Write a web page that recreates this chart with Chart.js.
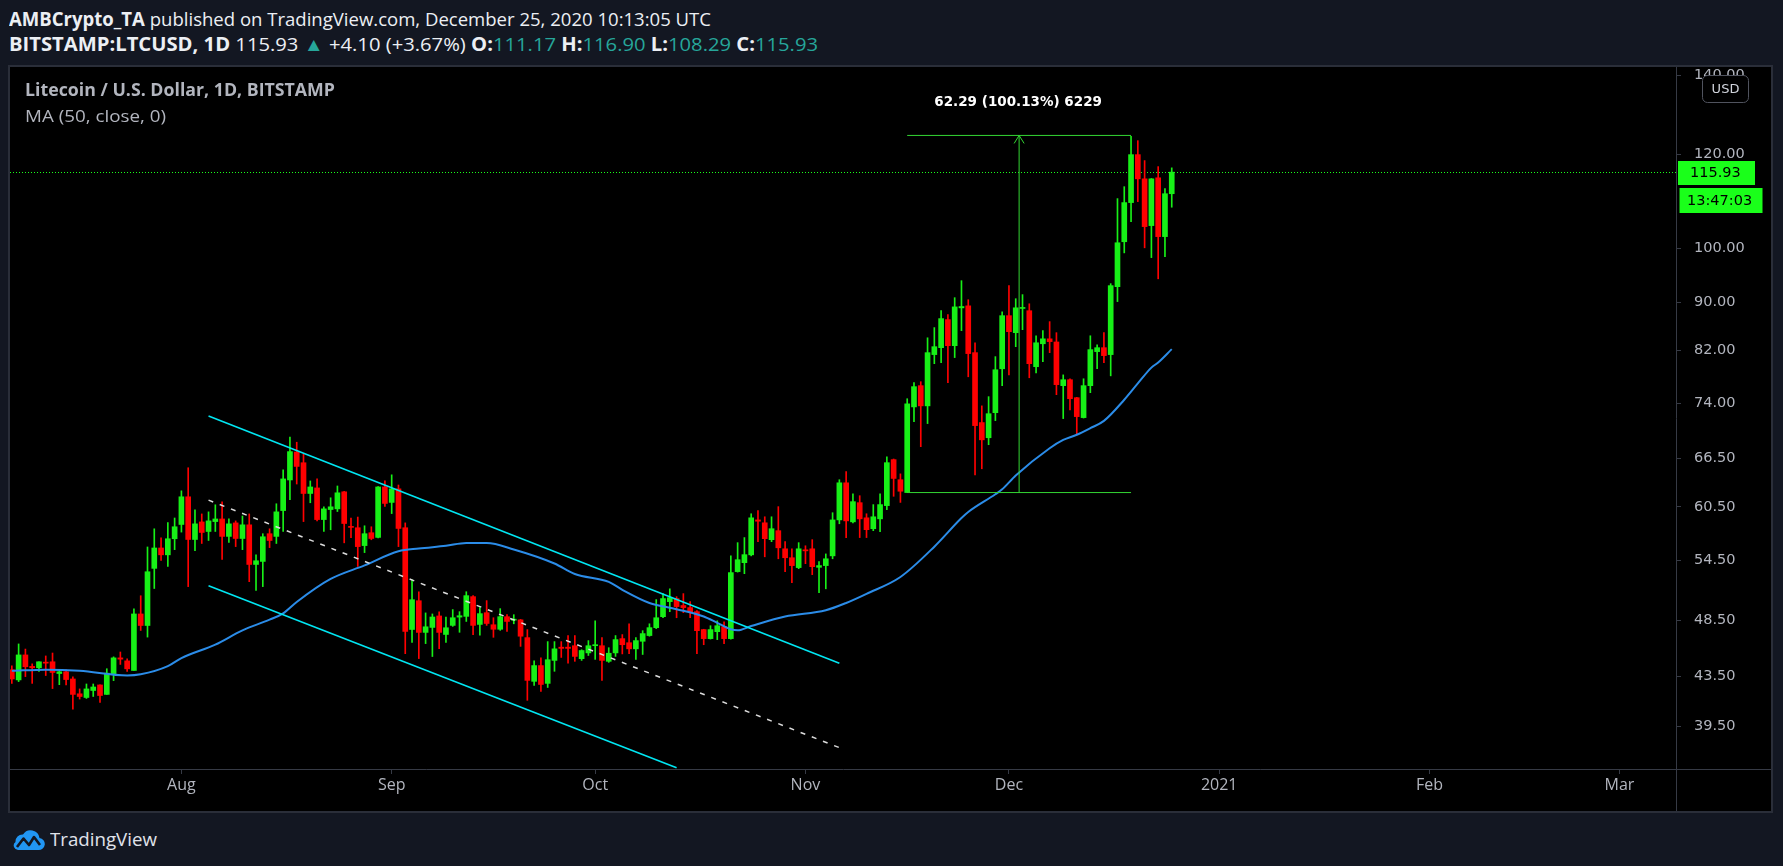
<!DOCTYPE html>
<html><head><meta charset="utf-8">
<script src="https://cdn.jsdelivr.net/npm/chart.js"></script>
<style>
html,body{margin:0;padding:0;background:#131722;width:1783px;height:866px;overflow:hidden;}
.hdr{position:absolute;left:9px;white-space:nowrap;font-family:"Open Sans","Liberation Sans",Arial,sans-serif;color:#eceff4;transform-origin:0 50%;font-size:19px;line-height:22px;}
#h1{top:8px;}
#h2{top:33px;}
.b{font-weight:bold}
.t{color:#26a69a}
#frame{position:absolute;left:8px;top:65px;width:1765px;height:748px;background:#2a2e39;}
#inner{position:absolute;left:10px;top:67px;width:1761px;height:744px;background:#000;}
#c{position:absolute;left:10px;top:67px;}
.leg{position:absolute;left:25px;font-family:"Open Sans","Liberation Sans",Arial,sans-serif;color:#b2b5be;white-space:nowrap;transform-origin:0 50%;font-size:17px;line-height:20px;}
#title{top:80px;font-weight:bold;}
#ma{top:106px;}
#logo{position:absolute;left:11px;top:826px;height:26px;}
#logo svg{position:absolute;left:0;top:1px}
#logotxt{position:absolute;left:39px;top:1px;font-family:"Open Sans","Liberation Sans",Arial,sans-serif;font-size:18px;line-height:24px;color:#e0e3eb;white-space:nowrap;transform-origin:0 50%}
</style></head>
<body>
<div id="h1" class="hdr"><span class="b">AMBCrypto_TA</span> published on TradingView.com, December 25, 2020 10:13:05 UTC</div>
<div id="h2" class="hdr"><span class="b">BITSTAMP:LTCUSD, 1D</span> 115.93 <span class="t">▲</span> +4.10 (+3.67%) <span class="b">O:</span><span class="t">111.17</span> <span class="b">H:</span><span class="t">116.90</span> <span class="b">L:</span><span class="t">108.29</span> <span class="b">C:</span><span class="t">115.93</span></div>
<div id="frame"></div>
<div id="inner"></div>
<canvas id="c" width="1761" height="744"></canvas>
<div id="title" class="leg">Litecoin / U.S. Dollar, 1D, BITSTAMP</div>
<div id="ma" class="leg">MA (50, close, 0)</div>
<div id="logo">
<svg width="34" height="24" viewBox="0 0 34 24"><path d="M8 23 H27 A6 6 0 0 0 28.5 11 A9 9 0 0 0 12 7.5 A7 7 0 0 0 4.5 15 A4.5 4.5 0 0 0 8 23Z" fill="#2196f3"/><path d="M6 20 L12.5 11.5 L18 18 L23 10 L29 18" stroke="#131722" stroke-width="2.6" fill="none" stroke-linejoin="round"/></svg>
<div id="logotxt">TradingView</div>
</div>
<script>
// ---- data ----
const startDate = '2020-07-07'; // first daily candle
const open = [
44.09,43.23,45.38,44.38,44.26,44.75,44.78,43.77,43.92,43.31,42.08,41.78,42.35,42.81,42.03,43.74,45.12,44.86,44.03,49.14,48.05,53.69,55.86,55.12,56.87,
58.47,61.70,56.79,58.76,57.68,58.80,59.10,57.13,58.65,56.90,58.43,54.10,54.42,57.43,57.13,60.07,63.75,67.30,65.92,62.10,62.77,59.03,60.19,60.27,62.30,58.21,58.10,56.12,57.54,57.02,62.89,
61.03,62.66,58.10,47.68,50.42,47.41,47.87,48.95,47.22,48.06,48.84,48.91,50.82,48.15,49.26,48.12,47.70,48.88,48.55,48.58,46.93,43.11,44.45,42.94,44.90,46.07,46.07,46.20,45.05,45.56,
46.20,46.20,44.82,45.56,46.84,46.47,45.92,46.60,47.12,47.85,48.88,50.33,50.63,49.95,49.75,49.36,47.67,46.84,47.48,47.94,46.84,53.35,54.29,55.12,58.99,58.66,56.77,57.77,55.77,54.81,53.77,
55.66,55.77,53.80,53.98,55.01,58.99,63.40,58.77,61.00,59.23,57.99,59.11,60.65,66.32,63.78,62.21,73.47,76.57,73.62,81.33,82.43,87.05,82.75,89.06,89.41,81.64,71.27,69.20,72.65,79.12,
87.72,84.87,88.96,88.57,79.44,83.06,83.86,83.35,76.57,77.46,74.80,71.96,76.57,81.80,82.43,81.33,92.80,101.27,109.27,119.94,114.43,104.49,114.66,102.28,111.17];
const high = [
44.43,46.36,45.90,44.60,44.78,45.29,45.55,44.09,44.09,43.48,42.48,42.89,42.89,42.81,44.18,45.21,45.64,45.04,49.63,50.91,55.97,57.98,56.98,58.69,59.21,
62.42,65.28,60.15,59.68,59.92,60.75,61.11,59.10,58.88,59.44,59.68,55.12,57.43,57.98,60.87,65.03,69.30,68.60,67.06,63.63,63.88,60.51,61.58,63.01,62.35,59.21,59.32,58.32,58.21,62.95,63.63,
64.39,63.13,58.65,52.50,51.30,49.24,49.14,49.34,48.85,49.56,49.36,51.31,50.92,49.75,50.43,48.78,49.65,49.07,49.07,48.62,47.67,44.87,45.13,46.57,46.57,46.57,47.12,47.12,45.84,46.66,
48.49,46.93,46.02,47.12,47.21,48.21,46.93,47.57,48.21,50.53,51.12,51.60,50.82,51.12,50.33,49.46,47.70,48.03,48.49,48.40,55.01,56.44,57.00,59.70,60.06,59.35,59.35,60.53,56.55,55.77,56.44,
56.10,56.77,54.39,55.22,59.82,63.78,64.79,62.07,61.83,59.70,60.77,62.07,66.69,66.40,64.51,74.65,77.01,77.16,84.03,85.71,88.57,87.89,90.84,93.89,90.48,83.22,73.62,74.95,81.01,88.39,
92.99,90.66,91.38,89.77,84.36,85.20,86.71,84.87,78.19,77.60,74.85,77.60,84.36,82.90,84.87,93.35,110.12,112.70,124.30,123.24,118.56,114.50,117.18,112.27,116.90];
const low = [
42.94,43.09,43.51,42.94,43.94,43.60,42.51,42.83,42.81,40.84,41.65,41.70,41.86,41.38,42.03,43.17,44.55,43.94,44.03,47.59,46.98,51.63,54.52,53.89,55.68,
57.61,51.82,55.57,56.35,56.68,57.68,54.63,56.46,56.01,55.68,52.32,51.43,51.82,55.90,56.35,57.68,61.35,63.25,58.80,60.99,58.88,57.68,57.87,59.96,56.42,56.98,53.89,55.36,56.76,56.95,60.55,
59.72,56.01,45.49,46.49,45.06,46.39,45.24,45.93,46.49,47.97,47.42,48.43,47.21,47.15,48.06,46.96,47.60,47.51,48.21,46.14,41.55,42.76,42.28,42.60,43.96,45.16,44.65,44.82,44.90,45.33,
44.99,43.19,44.73,45.25,45.47,45.50,44.99,45.42,47.06,47.76,48.78,49.36,48.78,49.26,48.78,45.50,46.29,46.80,46.75,46.38,46.80,53.30,53.14,55.01,56.55,54.91,56.55,54.70,53.35,52.21,53.66,
54.18,53.04,51.21,51.60,54.70,58.55,57.00,58.66,57.00,57.00,57.77,57.66,60.18,61.76,61.03,62.21,71.40,68.01,71.13,79.91,80.07,77.01,80.86,85.20,77.90,64.37,65.15,68.27,71.54,76.57,
78.19,82.59,85.37,77.75,78.49,80.23,81.64,75.24,71.82,73.06,69.75,71.90,75.53,79.12,80.07,78.04,90.15,99.10,105.30,109.48,100.08,98.19,94.23,98.38,108.29];
const close = [
43.31,45.38,44.35,44.26,44.78,44.66,43.86,43.92,43.26,42.03,41.86,42.48,42.64,41.94,43.80,45.12,45.01,44.17,49.14,48.05,53.34,55.86,55.12,56.87,58.21,
61.70,56.79,58.54,57.57,58.88,59.10,57.13,58.54,56.90,58.43,54.10,54.49,57.09,56.68,59.92,63.88,67.36,65.45,62.10,62.89,59.03,60.27,60.51,62.18,58.58,58.14,56.01,57.43,56.90,62.89,60.91,
62.66,58.02,47.50,50.52,47.41,47.93,48.85,47.41,47.84,48.78,48.97,50.92,48.06,49.17,48.24,47.70,48.88,48.43,48.60,47.06,43.19,44.45,42.85,44.96,45.92,45.96,45.96,45.25,45.77,46.20,
46.26,44.90,45.53,46.75,46.29,45.92,46.66,47.30,47.85,48.78,50.63,50.72,49.85,49.75,49.36,47.57,46.84,47.67,48.03,46.84,53.25,54.60,55.14,59.23,58.84,56.88,57.99,55.88,54.81,53.98,55.77,
55.55,53.87,53.98,54.70,58.99,63.40,58.88,61.12,59.11,57.88,59.35,60.77,65.93,63.94,62.37,73.91,76.42,73.62,81.64,82.59,87.22,82.75,89.23,89.29,81.49,70.85,68.92,72.51,78.97,87.72,
85.03,89.07,89.10,79.91,83.22,83.86,83.41,76.72,77.46,74.65,72.10,76.57,82.12,82.43,81.17,92.99,101.07,109.27,119.94,114.43,104.29,114.43,102.28,111.17,115.93];

// MA(50, close) line
const maDates = ['2020-07-07','2020-07-12','2020-07-17','2020-07-24','2020-07-26','2020-07-30','2020-08-01','2020-08-06','2020-08-10','2020-08-14','2020-08-16','2020-08-18','2020-08-23','2020-08-28','2020-09-02','2020-09-05','2020-09-09','2020-09-12','2020-09-15','2020-09-19','2020-09-25','2020-09-28','2020-10-03','2020-10-05','2020-10-09','2020-10-13','2020-10-17','2020-10-19','2020-10-21','2020-10-22','2020-10-24','2020-10-29','2020-11-04','2020-11-07','2020-11-10','2020-11-15','2020-11-20','2020-11-24','2020-11-25','2020-11-29','2020-11-30','2020-12-02','2020-12-07','2020-12-09','2020-12-11','2020-12-13','2020-12-15','2020-12-18','2020-12-20','2020-12-22','2020-12-23','2020-12-25'];
const maValues = [44.0,44.1,44.0,43.6,43.7,44.4,45.1,46.3,47.6,48.6,49.2,50.3,52.6,54.0,55.5,55.8,56.1,56.4,56.4,55.7,54.2,53.1,52.3,51.5,50.2,49.6,48.9,48.3,47.7,47.6,48.0,48.9,49.5,50.2,51.1,52.8,56.0,59.2,59.9,62.0,62.6,64.3,67.8,68.9,69.6,70.5,71.5,74.5,76.9,79.3,80.1,82.2];

// drawn trend lines: [date, price]
const upperChannel = [['2020-08-05',72.2],['2020-11-06',44.65]];
const lowerChannel = [['2020-08-05',51.9],['2020-10-13',36.45]];
const midChannel   = [['2020-08-05',61.3],['2020-11-06',37.9]];
// price-range measurement
const rangeFrom = '2020-11-16', rangeTo = '2020-12-19';
const rangeLow = 62.21, rangeHigh = 124.50;
const rangeLabel = '62.29 (100.13%) 6229';
const lastPrice = 115.93, countdown = '13:47:03';

// axis ticks
const monthTickDates = ['2020-08-01','2020-09-01','2020-10-01','2020-11-01','2020-12-01','2021-01-01','2021-02-01','2021-03-01'];
const monthTickLabels = ['Aug','Sep','Oct','Nov','Dec','2021','Feb','Mar'];
const priceTicks = [39.5,43.5,48.5,54.5,60.5,66.5,74,82,90,100,120,140];

// ---- view / style ----
const xMinDay = -25.27, xMaxDay = 220.34;   // visible window, days from 2020-08-01
const yMin = 36.36, yMax = 142.2;
const UP = '#17f017', DOWN = '#ff0000', AXIS = '#363a45';

const ORIGIN = Date.UTC(2020,7,1);
function dayOf(s){const [y,m,d]=s.split('-').map(Number);return (Date.UTC(y,m-1,d)-ORIGIN)/86400000;}
const startDay = dayOf(startDate);
const days = open.map((_,i)=>startDay+i);
const colors = open.map((o,i)=> close[i]>=o ? UP : DOWN);
const pts = arr => arr.map(p=>({x:dayOf(p[0]), y:p[1]}));
const monthTickDays = monthTickDates.map(dayOf);
const rFrom = dayOf(rangeFrom), rTo = dayOf(rangeTo), rMid = (rFrom+rTo)/2;

const lineBase = {type:'line', pointRadius:0, fill:false, borderCapStyle:'butt'};

const extras = {
  id:'extras',
  beforeDatasetsDraw(chart){
    const {ctx, chartArea:a, scales:{y}} = chart;
    const py = Math.round(y.getPixelForValue(lastPrice))+0.5;
    ctx.save(); ctx.strokeStyle='#1aff1a'; ctx.lineWidth=1; ctx.setLineDash([1,2]);
    ctx.beginPath(); ctx.moveTo(a.left,py); ctx.lineTo(a.right,py); ctx.stroke(); ctx.restore();
  },
  afterDatasetsDraw(chart){
    const {ctx, scales:{x,y}} = chart;
    const px = x.getPixelForValue(rMid), py = y.getPixelForValue(rangeHigh);
    ctx.save();
    ctx.strokeStyle='#33d633'; ctx.lineWidth=1;
    ctx.beginPath(); ctx.moveTo(px-5,py+8); ctx.lineTo(px,py); ctx.lineTo(px+5,py+8); ctx.stroke();
    ctx.fillStyle='#ffffff'; ctx.font='bold 13.5px "DejaVu Sans"'; ctx.textAlign='center'; ctx.textBaseline='middle';
    ctx.fillText(rangeLabel, px-1, py-33);
    ctx.restore();
  },
  afterDraw(chart){
    const {ctx, chartArea:a, scales:{y}, width, height} = chart;
    ctx.save();
    ctx.strokeStyle=AXIS; ctx.lineWidth=1;
    ctx.beginPath(); ctx.moveTo(a.right+0.5,a.bottom); ctx.lineTo(a.right+0.5,height);
    ctx.moveTo(a.right,a.bottom+0.5); ctx.lineTo(width,a.bottom+0.5); ctx.stroke();
    // USD badge
    ctx.fillStyle='#000'; ctx.strokeStyle='#50535e';
    ctx.beginPath(); ctx.roundRect(a.right+26.5,8.5,46,27,5); ctx.fill(); ctx.stroke();
    ctx.fillStyle='#d1d4dc'; ctx.font='13px "DejaVu Sans"'; ctx.textAlign='center'; ctx.textBaseline='middle';
    ctx.fillText('USD', a.right+49.5, 22.5);
    // last price box
    const py = y.getPixelForValue(lastPrice);
    const top1 = Math.round(py-11);
    ctx.fillStyle='#1aff1a'; ctx.fillRect(a.right+2, top1, 77, 24);
    ctx.fillStyle='#000'; ctx.font='14.5px "DejaVu Sans"'; ctx.textAlign='left';
    ctx.fillText(lastPrice.toFixed(2), a.right+14, top1+12.5);
    const top2 = top1+27;
    ctx.fillStyle='#1aff1a'; ctx.fillRect(a.right+3.5, top2, 83, 25);
    ctx.fillStyle='#000'; ctx.fillText(countdown, a.right+11, top2+13);
    ctx.restore();
  }
};

new Chart(document.getElementById('c'), {
  type:'bar',
  data:{datasets:[
    {...lineBase, label:'range-high', data:[{x:rFrom,y:rangeHigh},{x:rTo,y:rangeHigh}], borderColor:'#33d633', borderWidth:1, order:1},
    {...lineBase, label:'range-low', data:[{x:rFrom,y:rangeLow},{x:rTo,y:rangeLow}], borderColor:'#33d633', borderWidth:1, order:1},
    {...lineBase, label:'range-v', data:[{x:rMid,y:rangeLow},{x:rMid,y:rangeHigh}], borderColor:'#33d633', borderWidth:1, order:1},
    {...lineBase, label:'upper', data:pts(upperChannel), borderColor:'#00e6f2', borderWidth:1.6, order:2},
    {...lineBase, label:'lower', data:pts(lowerChannel), borderColor:'#00e6f2', borderWidth:1.6, order:2},
    {...lineBase, label:'mid', data:pts(midChannel), borderColor:'#dcdcdc', borderWidth:1.5, borderDash:[5,7], order:2},
    {...lineBase, label:'MA 50', data:maDates.map((d,i)=>({x:dayOf(d),y:maValues[i]})), borderColor:'#2b8ce8', borderWidth:2, tension:0.4, cubicInterpolationMode:'monotone', order:3},
    {type:'bar', label:'body', data:days.map((d,i)=>({x:d,y:[open[i],close[i]]})), backgroundColor:colors, borderWidth:0, barThickness:5, minBarLength:1, grouped:false, order:9},
    {type:'bar', label:'wick', data:days.map((d,i)=>({x:d,y:[low[i],high[i]]})), backgroundColor:colors, borderWidth:0, barThickness:1, grouped:false, order:10}
  ]},
  options:{
    responsive:false, animation:false, devicePixelRatio:1, events:[],
    layout:{padding:0},
    plugins:{legend:{display:false}, tooltip:{enabled:false}},
    scales:{
      x:{type:'linear', min:xMinDay, max:xMaxDay, offset:false, position:'bottom',
        afterFit(s){s.height=42; s.paddingLeft=0; s.paddingRight=0;},
        afterBuildTicks(s){s.ticks = monthTickDays.map(v=>({value:v}));},
        grid:{display:true, drawOnChartArea:false, drawTicks:true, tickLength:5, color:AXIS, offset:false},
        border:{display:true, color:AXIS},
        ticks:{color:'#b2b5be', font:{family:'Open Sans', size:16}, padding:2, autoSkip:false, maxRotation:0,
          callback:(v)=>{const i=monthTickDays.indexOf(v);return i>=0?monthTickLabels[i]:'';}}},
      y:{type:'logarithmic', position:'right', min:yMin, max:yMax,
        afterFit(s){s.width=95; s.paddingTop=0; s.paddingBottom=0;},
        afterBuildTicks(s){s.ticks = priceTicks.map(v=>({value:v}));},
        grid:{display:true, drawOnChartArea:false, drawTicks:true, tickLength:5, color:AXIS},
        border:{display:true, color:AXIS},
        ticks:{color:'#b2b5be', font:{family:'DejaVu Sans', size:14.5}, padding:13, autoSkip:false,
          callback:(v)=>Number(v).toFixed(2)}}
    }
  },
  plugins:[extras]
});

function fit(id,w){const el=document.getElementById(id);const r=el.getBoundingClientRect().width;if(r>0)el.style.transform='scaleX('+(w/r)+')';}
fit('h1',702); fit('h2',809); fit('title',310); fit('ma',141); fit('logotxt',107);
</script>
</body></html>
